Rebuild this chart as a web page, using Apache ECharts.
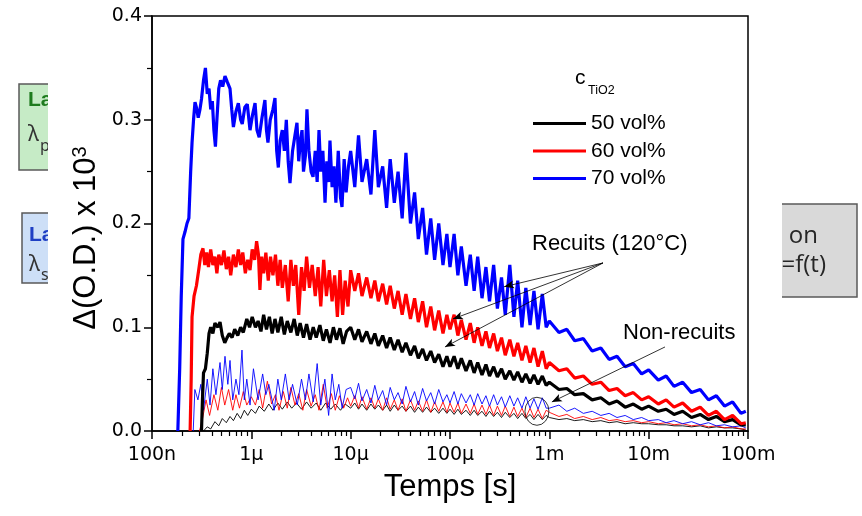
<!DOCTYPE html>
<html><head><meta charset="utf-8">
<script src="https://cdn.jsdelivr.net/npm/echarts@6/dist/echarts.min.js"></script>
<style>html,body{margin:0;padding:0;background:#fff}#c{width:862px;height:516px}</style>
</head><body><div id="c"></div><script>
const FONT = '"Liberation Sans", Arial, sans-serif';
const TICKFONT = '"DejaVu Sans", sans-serif';

// x ticks (seconds) and their labels
const xTickValues = [1e-7, 1e-6, 1e-5, 1e-4, 1e-3, 1e-2, 1e-1];
const xTickLabels = ['100n', '1µ', '10µ', '100µ', '1m', '10m', '100m'];
const yTickLabels = ['0.0', '0.1', '0.2', '0.3', '0.4'];

// shared time grids for the later part of each trace
const tMid = [1.0e-5,1.1e-5,1.2e-5,1.3e-5,1.45e-5,1.6e-5,1.75e-5,1.9e-5,2.1e-5,2.3e-5,2.5e-5,2.75e-5,3.0e-5,3.3e-5,3.6e-5,4.0e-5,4.4e-5,4.8e-5,5.3e-5,5.8e-5,6.4e-5,7.0e-5,7.7e-5,8.5e-5,9.3e-5,
              1.0e-4,1.1e-4,1.2e-4,1.3e-4,1.45e-4,1.6e-4,1.75e-4,1.9e-4,2.1e-4,2.3e-4,2.5e-4,2.75e-4,3.0e-4,3.3e-4,3.6e-4,4.0e-4,4.4e-4,4.8e-4,5.3e-4,5.8e-4,6.4e-4,7.0e-4,7.7e-4,8.5e-4,9.3e-4];
const tEnd = [1.0e-3,1.25e-3,1.5e-3,1.8e-3,2.2e-3,2.7e-3,3.3e-3,4.0e-3,4.8e-3,5.8e-3,7.0e-3,8.5e-3,
              1.0e-2,1.25e-2,1.5e-2,1.8e-2,2.2e-2,2.7e-2,3.3e-2,4.0e-2,4.8e-2,5.8e-2,7.0e-2,8.5e-2,9.5e-2];

// ---- Recuits (120°C), 70 vol% (blue)
const rec70Early = [[1.82e-7,0],[1.9e-7,0.06],[1.97e-7,0.13],[2.05e-7,0.185],[2.15e-7,0.192],[2.25e-7,0.2],[2.35e-7,0.205],[2.45e-7,0.25],[2.53e-7,0.278],[2.62e-7,0.3],[2.71e-7,0.317],[2.8e-7,0.312],[2.92e-7,0.302],[3.04e-7,0.31],[3.15e-7,0.32],[3.3e-7,0.338],[3.45e-7,0.35],[3.6e-7,0.325],[3.75e-7,0.33],[3.9e-7,0.31],[4.05e-7,0.318],[4.2e-7,0.29],[4.35e-7,0.274],[4.5e-7,0.3],[4.7e-7,0.33],[4.9e-7,0.338],[5.15e-7,0.332],[5.43e-7,0.342],[5.75e-7,0.336],[6.1e-7,0.33],[6.35e-7,0.31],[6.6e-7,0.293],[7.0e-7,0.308],[7.4e-7,0.316],[7.8e-7,0.3],[8.1e-7,0.296],[8.6e-7,0.312],[9.1e-7,0.315],[9.7e-7,0.29],[1.03e-6,0.305],[1.09e-6,0.316],[1.14e-6,0.29],[1.2e-6,0.283],[1.28e-6,0.302],[1.37e-6,0.319],[1.42e-6,0.29],[1.47e-6,0.278],[1.55e-6,0.3],[1.65e-6,0.31],[1.73e-6,0.321],[1.8e-6,0.27],[1.87e-6,0.254],[1.95e-6,0.28],[2.05e-6,0.29],[2.15e-6,0.27],[2.25e-6,0.3],[2.35e-6,0.26],[2.45e-6,0.239],[2.6e-6,0.27],[2.75e-6,0.285],[2.88e-6,0.297],[3.0e-6,0.26],[3.12e-6,0.28],[3.24e-6,0.29],[3.35e-6,0.25],[3.5e-6,0.265],[3.63e-6,0.31],[3.8e-6,0.27],[4.0e-6,0.25],[4.18e-6,0.245],[4.4e-6,0.27],[4.6e-6,0.24],[4.8e-6,0.29],[5.0e-6,0.25],[5.25e-6,0.27],[5.52e-6,0.22],[5.75e-6,0.26],[6.0e-6,0.24],[6.19e-6,0.28],[6.5e-6,0.235],[6.8e-6,0.255],[7.1e-6,0.22],[7.5e-6,0.27],[7.9e-6,0.225],[8.18e-6,0.216],[8.6e-6,0.262],[9.0e-6,0.23],[9.5e-6,0.255]];
const rec70Mid = [0.27,0.235,0.285,0.24,0.262,0.228,0.29,0.235,0.255,0.215,0.262,0.22,0.25,0.205,0.268,0.2,0.23,0.185,0.215,0.17,0.205,0.165,0.2,0.16,0.19,
                  0.158,0.19,0.15,0.178,0.14,0.17,0.135,0.168,0.128,0.158,0.125,0.16,0.118,0.148,0.112,0.16,0.11,0.145,0.1,0.138,0.102,0.135,0.098,0.132,0.1];
const rec70End = [0.106,0.095,0.098,0.087,0.089,0.077,0.08,0.069,0.072,0.062,0.065,0.055,0.059,0.049,0.053,0.043,0.047,0.037,0.04,0.03,0.034,0.024,0.028,0.017,0.019];

// ---- Recuits, 60 vol% (red)
const rec60Early = [[2.42e-7,0],[2.48e-7,0.05],[2.53e-7,0.11],[2.65e-7,0.13],[2.8e-7,0.14],[2.95e-7,0.155],[3.1e-7,0.17],[3.26e-7,0.176],[3.4e-7,0.16],[3.55e-7,0.172],[3.7e-7,0.158],[3.9e-7,0.175],[4.1e-7,0.16],[4.3e-7,0.168],[4.5e-7,0.152],[4.7e-7,0.17],[5.0e-7,0.16],[5.3e-7,0.174],[5.6e-7,0.156],[5.9e-7,0.168],[6.2e-7,0.15],[6.6e-7,0.17],[7.0e-7,0.158],[7.4e-7,0.175],[7.8e-7,0.16],[8.2e-7,0.172],[8.7e-7,0.152],[9.2e-7,0.165],[9.7e-7,0.155],[1.02e-6,0.175],[1.08e-6,0.165],[1.13e-6,0.183],[1.18e-6,0.17],[1.22e-6,0.136],[1.27e-6,0.168],[1.33e-6,0.152],[1.4e-6,0.172],[1.48e-6,0.145],[1.56e-6,0.168],[1.65e-6,0.15],[1.75e-6,0.17],[1.85e-6,0.14],[1.95e-6,0.165],[2.05e-6,0.138],[2.2e-6,0.16],[2.35e-6,0.125],[2.5e-6,0.165],[2.65e-6,0.14],[2.8e-6,0.16],[3.0e-6,0.112],[3.2e-6,0.158],[3.4e-6,0.135],[3.6e-6,0.168],[3.85e-6,0.138],[4.1e-6,0.16],[4.4e-6,0.13],[4.7e-6,0.158],[5.0e-6,0.12],[5.35e-6,0.165],[5.7e-6,0.13],[6.1e-6,0.155],[6.5e-6,0.125],[6.9e-6,0.15],[7.35e-6,0.11],[7.8e-6,0.155],[8.3e-6,0.112],[8.8e-6,0.145],[9.4e-6,0.12]];
const rec60Mid = [0.155,0.135,0.152,0.13,0.148,0.128,0.145,0.125,0.142,0.122,0.14,0.118,0.135,0.112,0.132,0.108,0.128,0.105,0.125,0.1,0.12,0.097,0.116,0.094,0.112,
                  0.098,0.112,0.092,0.107,0.088,0.104,0.085,0.1,0.082,0.096,0.08,0.094,0.077,0.09,0.073,0.088,0.072,0.085,0.068,0.082,0.066,0.08,0.062,0.077,0.06];
const rec60End = [0.066,0.058,0.06,0.051,0.053,0.045,0.047,0.039,0.041,0.034,0.037,0.03,0.033,0.026,0.03,0.023,0.027,0.019,0.023,0.015,0.019,0.011,0.015,0.007,0.008];

// ---- Recuits, 50 vol% (black)
const rec50Early = [[3.15e-7,0],[3.22e-7,0.03],[3.3e-7,0.056],[3.45e-7,0.06],[3.6e-7,0.075],[3.75e-7,0.094],[3.9e-7,0.1],[4.1e-7,0.094],[4.3e-7,0.104],[4.6e-7,0.1],[4.84e-7,0.105],[5.1e-7,0.092],[5.4e-7,0.085],[5.7e-7,0.09],[6.0e-7,0.094],[6.4e-7,0.09],[6.8e-7,0.098],[7.3e-7,0.092],[7.8e-7,0.1],[8.3e-7,0.095],[9.0e-7,0.108],[9.6e-7,0.1],[1.02e-6,0.11],[1.1e-6,0.1],[1.17e-6,0.106],[1.25e-6,0.096],[1.33e-6,0.112],[1.42e-6,0.098],[1.52e-6,0.11],[1.62e-6,0.094],[1.73e-6,0.108],[1.85e-6,0.095],[2.0e-6,0.11],[2.15e-6,0.093],[2.3e-6,0.106],[2.5e-6,0.095],[2.7e-6,0.108],[2.9e-6,0.092],[3.1e-6,0.104],[3.35e-6,0.09],[3.6e-6,0.103],[3.9e-6,0.088],[4.2e-6,0.1],[4.5e-6,0.09],[4.9e-6,0.102],[5.3e-6,0.087],[5.7e-6,0.098],[6.2e-6,0.085],[6.7e-6,0.1],[7.2e-6,0.088],[7.8e-6,0.099],[8.4e-6,0.084],[9.1e-6,0.096]];
const rec50Mid = [0.1,0.088,0.098,0.086,0.096,0.084,0.094,0.082,0.092,0.08,0.09,0.078,0.088,0.076,0.085,0.073,0.082,0.07,0.079,0.068,0.077,0.066,0.074,0.062,0.072,
                  0.062,0.072,0.06,0.07,0.058,0.068,0.056,0.066,0.054,0.064,0.053,0.062,0.052,0.06,0.05,0.058,0.049,0.057,0.047,0.055,0.046,0.054,0.045,0.053,0.044];
const rec50End = [0.047,0.04,0.041,0.035,0.036,0.03,0.032,0.026,0.029,0.023,0.026,0.021,0.024,0.019,0.021,0.016,0.019,0.013,0.016,0.011,0.014,0.009,0.011,0.006,0.006];

// ---- Non-recuits (thin)
const nr70Early = [[2.6e-7,0],[2.7e-7,0.04],[2.9e-7,0.03],[3.1e-7,0.045],[3.3e-7,0.02],[3.6e-7,0.05],[3.84e-7,0.025],[4.1e-7,0.06],[4.4e-7,0.035],[4.84e-7,0.066],[5.1e-7,0.04],[5.43e-7,0.072],[5.8e-7,0.045],[6.1e-7,0.068],[6.5e-7,0.03],[7.0e-7,0.05],[7.5e-7,0.035],[8.05e-7,0.078],[8.5e-7,0.03],[9.0e-7,0.05],[9.7e-7,0.025],[1.05e-6,0.06],[1.17e-6,0.03],[1.3e-6,0.055],[1.4e-6,0.035],[1.5e-6,0.045],[1.7e-6,0.02],[1.85e-6,0.05],[2.0e-6,0.03],[2.2e-6,0.055],[2.4e-6,0.03],[2.6e-6,0.045],[2.9e-6,0.025],[3.2e-6,0.05],[3.5e-6,0.03],[3.8e-6,0.055],[4.2e-6,0.028],[4.6e-6,0.065],[5.0e-6,0.025],[5.5e-6,0.05],[6.0e-6,0.015],[6.5e-6,0.055],[7.0e-6,0.03],[7.6e-6,0.045],[8.2e-6,0.022],[9.0e-6,0.04]];
const nr70Mid = [0.042,0.031,0.046,0.029,0.04,0.027,0.044,0.03,0.039,0.025,0.042,0.03,0.037,0.026,0.043,0.028,0.038,0.025,0.041,0.029,0.037,0.026,0.04,0.028,0.035,
                 0.027,0.038,0.026,0.036,0.027,0.035,0.025,0.036,0.026,0.034,0.024,0.035,0.025,0.033,0.023,0.034,0.024,0.032,0.022,0.033,0.022,0.031,0.021,0.032,0.022];
const nr70End = [0.022,0.025,0.019,0.022,0.017,0.019,0.015,0.017,0.013,0.015,0.011,0.013,0.01,0.011,0.008,0.01,0.007,0.009,0.006,0.008,0.005,0.006,0.004,0.005,0.003];

const nr60Early = [[3.0e-7,0],[3.2e-7,0.01],[3.5e-7,0.03],[3.8e-7,0.015],[4.2e-7,0.035],[4.6e-7,0.02],[5.0e-7,0.042],[5.4e-7,0.025],[5.9e-7,0.04],[6.5e-7,0.02],[7.0e-7,0.035],[7.6e-7,0.022],[8.3e-7,0.038],[9.0e-7,0.025],[1.0e-6,0.033],[1.1e-6,0.025],[1.2e-6,0.04],[1.3e-6,0.022],[1.45e-6,0.048],[1.6e-6,0.026],[1.75e-6,0.035],[1.9e-6,0.02],[2.1e-6,0.038],[2.3e-6,0.022],[2.5e-6,0.042],[2.75e-6,0.025],[3.0e-6,0.036],[3.3e-6,0.02],[3.6e-6,0.04],[4.0e-6,0.024],[4.4e-6,0.035],[4.8e-6,0.02],[5.3e-6,0.045],[5.8e-6,0.022],[6.4e-6,0.036],[7.0e-6,0.02],[7.7e-6,0.034],[8.5e-6,0.022],[9.3e-6,0.032]];
const nr60Mid = [0.024,0.034,0.022,0.033,0.021,0.032,0.022,0.031,0.02,0.032,0.021,0.03,0.02,0.031,0.019,0.03,0.02,0.029,0.019,0.03,0.018,0.028,0.019,0.028,0.018,
                 0.027,0.018,0.027,0.017,0.026,0.017,0.026,0.016,0.025,0.016,0.025,0.015,0.024,0.015,0.024,0.014,0.023,0.014,0.022,0.013,0.022,0.013,0.021,0.012,0.02];
const nr60End = [0.018,0.014,0.016,0.012,0.014,0.011,0.013,0.01,0.011,0.009,0.01,0.008,0.009,0.007,0.008,0.006,0.007,0.005,0.006,0.004,0.005,0.003,0.004,0.002,0.002];

const nr50Early = [[3.3e-7,0],[3.6e-7,0.004],[3.9e-7,0.002],[4.3e-7,0.009],[4.7e-7,0.005],[5.1e-7,0.012],[5.6e-7,0.008],[6.1e-7,0.014],[6.6e-7,0.01],[7.2e-7,0.017],[7.8e-7,0.012],[8.5e-7,0.02],[9.2e-7,0.015],[1.0e-6,0.021],[1.1e-6,0.017],[1.2e-6,0.024],[1.35e-6,0.019],[1.5e-6,0.026],[1.65e-6,0.02],[1.85e-6,0.027],[2.05e-6,0.021],[2.3e-6,0.028],[2.55e-6,0.022],[2.85e-6,0.027],[3.2e-6,0.021],[3.6e-6,0.028],[4.0e-6,0.022],[4.5e-6,0.027],[5.0e-6,0.02],[5.6e-6,0.027],[6.3e-6,0.021],[7.0e-6,0.026],[7.9e-6,0.02],[8.8e-6,0.026]];
const nr50Mid = [0.022,0.027,0.021,0.026,0.02,0.026,0.021,0.025,0.02,0.025,0.019,0.025,0.02,0.024,0.019,0.024,0.018,0.023,0.018,0.023,0.018,0.022,0.017,0.022,0.017,
                 0.021,0.016,0.021,0.016,0.02,0.015,0.02,0.015,0.019,0.014,0.019,0.014,0.018,0.013,0.018,0.013,0.017,0.012,0.017,0.012,0.016,0.011,0.016,0.011,0.015];
const nr50End = [0.013,0.011,0.012,0.01,0.011,0.009,0.01,0.008,0.009,0.007,0.008,0.007,0.007,0.006,0.006,0.005,0.005,0.004,0.005,0.003,0.004,0.003,0.003,0.002,0.001];

// annotation anchors in data coordinates [t, value]
const recuitArrowStart = [3.47e-3, 0.162];
const recuitArrowEnds = [[3.5e-4, 0.139], [1.07e-4, 0.108], [8.9e-5, 0.081]];
const nonRecuitArrow = [[1.46e-2, 0.081], [1.06e-3, 0.028]];
const nonRecuitCircle = [7.5e-4, 0.019];

function build(early, mid, end) {
  return early.concat(tMid.map((t, i) => [t, mid[i]]), tEnd.map((t, i) => [t, end[i]]));
}
const minorX = [];
for (let k = -7; k <= -2; k++) for (let m = 2; m <= 9; m++) minorX.push(m * Math.pow(10, k));

function line(name, data, color, width, z) {
  return { name, type: 'line', data, symbol: 'none', showSymbol: false, z, animation: false,
    lineStyle: { color, width }, itemStyle: { color }, emphasis: { disabled: true } };
}

const s = [
  line('50 vol% non-recuit', build(nr50Early, nr50Mid, nr50End), '#000000', 0.9, 2),
  line('60 vol% non-recuit', build(nr60Early, nr60Mid, nr60End), '#ff0000', 0.9, 2),
  line('70 vol% non-recuit', build(nr70Early, nr70Mid, nr70End), '#0000ff', 0.9, 2),
  line('50 vol%', build(rec50Early, rec50Mid, rec50End), '#000000', 3.2, 3),
  line('60 vol%', build(rec60Early, rec60Mid, rec60End), '#ff0000', 3.2, 3),
  line('70 vol%', build(rec70Early, rec70Mid, rec70End), '#0000ff', 3.2, 3)
];
s[0].markLine = {
  silent: true, symbol: ['none', 'arrow'], symbolSize: [6, 10], animation: false,
  lineStyle: { color: '#000', width: 0.8, type: 'solid' }, label: { show: false },
  data: recuitArrowEnds.map(e => [{ coord: recuitArrowStart }, { coord: e }])
    .concat([[{ coord: nonRecuitArrow[0] }, { coord: nonRecuitArrow[1] }]])
};
s[0].markPoint = {
  silent: true, symbol: 'circle', symbolSize: [24, 28], animation: false,
  itemStyle: { color: 'rgba(0,0,0,0)', borderColor: '#000', borderWidth: 0.8 },
  label: { show: false }, data: [{ coord: nonRecuitCircle }]
};

const chart = echarts.init(document.getElementById('c'), null, { renderer: 'canvas' });
chart.setOption({
  backgroundColor: '#ffffff',
  animation: false,
  grid: { left: 152, right: 114, top: 16, bottom: 85, show: true, borderColor: '#000', borderWidth: 1.5, backgroundColor: 'transparent' },
  legend: {
    data: [
      { name: '50 vol%', icon: 'rect' },
      { name: '60 vol%', icon: 'rect' },
      { name: '70 vol%', icon: 'rect' }
    ],
    orient: 'vertical', left: 528, top: 108,
    itemWidth: 53, itemHeight: 3, itemGap: 6.5, selectedMode: false,
    textStyle: { fontFamily: FONT, fontSize: 21, color: '#000' }
  },
  xAxis: [{
    type: 'log', logBase: 10, min: 1e-7, max: 1e-1, position: 'bottom',
    axisLine: { show: true, lineStyle: { color: '#000', width: 1.5 } },
    axisTick: { show: true, inside: false, length: 8, customValues: xTickValues, lineStyle: { color: '#000', width: 1.5 } },
    axisLabel: { customValues: xTickValues, margin: 15, fontFamily: TICKFONT, fontSize: 19, color: '#000',
      formatter: v => xTickLabels[Math.round(Math.log10(v)) + 7] },
    splitLine: { show: false }
  }, {
    type: 'log', logBase: 10, min: 1e-7, max: 1e-1, position: 'bottom',
    axisLine: { show: false }, axisLabel: { show: false }, splitLine: { show: false },
    axisTick: { show: true, inside: false, length: 5, customValues: minorX, lineStyle: { color: '#000', width: 1.2 } }
  }],
  yAxis: {
    type: 'value', min: 0, max: 0.4, interval: 0.1,
    axisLine: { show: true, lineStyle: { color: '#000', width: 1.5 } },
    axisTick: { show: true, inside: false, length: 8, lineStyle: { color: '#000', width: 1.5 } },
    minorTick: { show: true, splitNumber: 2, length: 5, lineStyle: { color: '#000', width: 1.2 } },
    axisLabel: { margin: 10, fontFamily: TICKFONT, fontSize: 19, color: '#000',
      formatter: v => yTickLabels[Math.round(v * 10)] },
    splitLine: { show: false }, minorSplitLine: { show: false }
  },
  graphic: { elements: [
    // slide fragments behind the chart
    { type: 'rect', z: -10, shape: { x: 19, y: 84, width: 90, height: 86 }, style: { fill: '#c6ebc6', stroke: '#5a5a5a', lineWidth: 1.5 } },
    { type: 'rect', z: -10, shape: { x: 22, y: 213, width: 90, height: 70 }, style: { fill: '#cddff7', stroke: '#5a5a5a', lineWidth: 1.5 } },
    { type: 'rect', z: -10, shape: { x: 700, y: 204, width: 157, height: 93 }, style: { fill: '#d9d9d9', stroke: '#5a5a5a', lineWidth: 1.5 } },
    { type: 'text', z: -9, x: 28, y: 100, style: { text: 'La', fontFamily: FONT, fontWeight: 'bold', fontSize: 21, fill: '#1e7b1e', textVerticalAlign: 'middle' } },
    { type: 'text', z: -9, x: 28, y: 135, style: { text: 'λ', fontFamily: '"Noto Sans", sans-serif', fontSize: 21, fill: '#333', textVerticalAlign: 'middle' } },
    { type: 'text', z: -9, x: 40, y: 146, style: { text: 'p', fontFamily: '"Noto Sans", sans-serif', fontSize: 16, fill: '#333', textVerticalAlign: 'middle' } },
    { type: 'text', z: -9, x: 29, y: 235, style: { text: 'La', fontFamily: FONT, fontWeight: 'bold', fontSize: 21, fill: '#1f3fc4', textVerticalAlign: 'middle' } },
    { type: 'text', z: -9, x: 29, y: 265, style: { text: 'λ', fontFamily: '"Noto Sans", sans-serif', fontSize: 21, fill: '#333', textVerticalAlign: 'middle' } },
    { type: 'text', z: -9, x: 41, y: 275, style: { text: 's', fontFamily: '"Noto Sans", sans-serif', fontSize: 16, fill: '#333', textVerticalAlign: 'middle' } },
    { type: 'text', z: -9, x: 818, y: 236, style: { text: 'on', fontFamily: '"Open Sans", sans-serif', fontSize: 24, fill: '#262626', textAlign: 'right', textVerticalAlign: 'middle' } },
    { type: 'text', z: -9, x: 826, y: 265, style: { text: '=f(t)', fontFamily: '"Open Sans", sans-serif', fontSize: 24, fill: '#262626', textAlign: 'right', textVerticalAlign: 'middle' } },
    // white chart sheet
    { type: 'rect', z: -8, shape: { x: 48, y: 0, width: 734, height: 516 }, style: { fill: '#ffffff' } },
    // axis titles
    { type: 'text', z: 10, x: 86, y: 238, rotation: Math.PI / 2,
      style: { text: '{a|Δ(O.D.) x 10}{b|3}', textAlign: 'center', textVerticalAlign: 'middle', fill: '#000',
        rich: { a: { fontFamily: FONT, fontSize: 31, fill: '#000' }, b: { fontFamily: FONT, fontSize: 20, fill: '#000', verticalAlign: 'top' } } } },
    { type: 'text', z: 10, x: 450, y: 487, style: { text: 'Temps [s]', fontFamily: FONT, fontSize: 31, fill: '#000', textAlign: 'center', textVerticalAlign: 'middle' } },
    // legend title
    { type: 'text', z: 10, x: 575, y: 78, style: { text: 'c', fontFamily: FONT, fontSize: 21, fill: '#000', textVerticalAlign: 'middle' } },
    { type: 'text', z: 10, x: 588, y: 91, style: { text: 'TiO2', fontFamily: FONT, fontSize: 12.5, fill: '#000', textVerticalAlign: 'middle' } },
    // annotations
    { type: 'text', z: 10, x: 532, y: 244, style: { text: 'Recuits (120°C)', fontFamily: FONT, fontSize: 22, fill: '#000', textVerticalAlign: 'middle' } },
    { type: 'text', z: 10, x: 623, y: 333, style: { text: 'Non-recuits', fontFamily: FONT, fontSize: 22, fill: '#000', textVerticalAlign: 'middle' } }
  ] },
  series: s
});
</script></body></html>
